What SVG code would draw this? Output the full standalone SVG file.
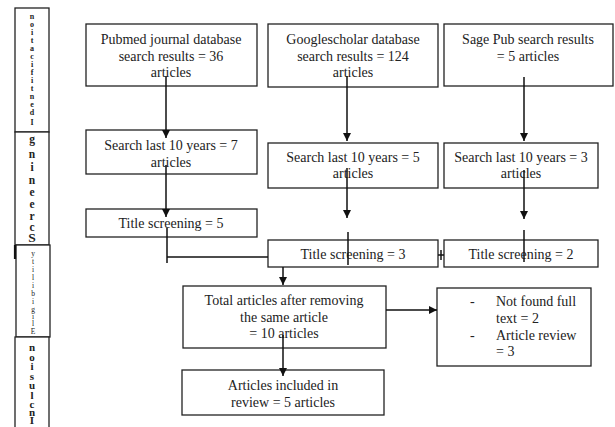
<svg xmlns="http://www.w3.org/2000/svg" width="615" height="427" viewBox="0 0 615 427">
<defs>
<style>
.box{fill:#fff;stroke:#222;stroke-width:1.3}
text{font-family:"Liberation Serif","DejaVu Serif","Times New Roman",serif;fill:#222}
.t{font-size:14px;text-anchor:middle}
.tl{font-size:14px}
.ln{fill:none;stroke:#111;stroke-width:1.5}
.v{text-anchor:middle}
</style>
<marker id="ah" markerUnits="userSpaceOnUse" markerWidth="9" markerHeight="9" refX="8" refY="4" orient="auto">
<path d="M0,0 L8,4 L0,8 Z" fill="#111"/>
</marker>
</defs>
<rect width="615" height="427" fill="#fff"/>

<g id="stage-identification">
<rect class="box" x="15" y="8" width="34" height="124"/>
<text class="v" font-size="8" font-weight="bold"><tspan x="32" y="19">n</tspan><tspan x="32" y="27">o</tspan><tspan x="32" y="35">i</tspan><tspan x="32" y="43">t</tspan><tspan x="32" y="51">a</tspan><tspan x="32" y="59">c</tspan><tspan x="32" y="67">i</tspan><tspan x="32" y="75">f</tspan><tspan x="32" y="83">i</tspan><tspan x="32" y="91">t</tspan><tspan x="32" y="99">n</tspan><tspan x="32" y="107">e</tspan><tspan x="32" y="115">d</tspan><tspan x="32" y="125">I</tspan></text>
</g>
<g id="stage-screening">
<rect class="box" x="15" y="132" width="34" height="113"/>
<text class="v" font-size="11.5" font-weight="bold"><tspan x="32" y="143">g</tspan><tspan x="32" y="158">n</tspan><tspan x="32" y="171">i</tspan><tspan x="32" y="184">n</tspan><tspan x="32" y="196">e</tspan><tspan x="32" y="208">e</tspan><tspan x="32" y="220">r</tspan><tspan x="32" y="231">c</tspan><tspan x="32" y="242" font-size="13.5">S</tspan></text>
</g>
<g id="stage-eligibility">
<rect class="box" x="16" y="245" width="34" height="92"/>
<line x1="15" y1="245" x2="15" y2="259" stroke="#111" stroke-width="2.2"/>
<text class="v" font-size="7.5"><tspan x="33" y="256">y</tspan><tspan x="33" y="264">t</tspan><tspan x="33" y="272">i</tspan><tspan x="33" y="280">l</tspan><tspan x="33" y="288">i</tspan><tspan x="33" y="296">b</tspan><tspan x="33" y="304">i</tspan><tspan x="33" y="312">g</tspan><tspan x="33" y="319">i</tspan><tspan x="33" y="326">l</tspan><tspan x="33" y="334">E</tspan></text>
</g>
<g id="stage-inclusion">
<rect class="box" x="15" y="337" width="34" height="95"/>
<text class="v" font-size="11" font-weight="bold"><tspan x="32" y="351">n</tspan><tspan x="32" y="360.5">o</tspan><tspan x="32" y="370">i</tspan><tspan x="32" y="379.5">s</tspan><tspan x="32" y="389">u</tspan><tspan x="32" y="398.5">l</tspan><tspan x="32" y="408">c</tspan><tspan x="32" y="416">n</tspan><tspan x="32" y="424">I</tspan></text>
</g>

<g id="pubmed">
<rect class="box" x="86" y="24" width="171" height="62"/>
<text class="t" x="171" y="44">Pubmed journal database</text>
<text class="t" x="171" y="61">search results = 36</text>
<text class="t" x="171" y="77">articles</text>
</g>
<g id="googlescholar">
<rect class="box" x="268" y="24" width="170" height="63"/>
<text class="t" x="353" y="44">Googlescholar database</text>
<text class="t" x="353" y="61">search results = 124</text>
<text class="t" x="353" y="77">articles</text>
</g>
<g id="sagepub">
<rect class="box" x="444" y="24" width="169" height="62"/>
<text class="t" x="528" y="44">Sage Pub search results</text>
<text class="t" x="528" y="61">= 5 articles</text>
</g>

<g id="search7">
<rect class="box" x="86" y="130" width="171" height="44"/>
<text class="t" x="171" y="150">Search last 10 years = 7</text>
<text class="t" x="171" y="167">articles</text>
</g>
<g id="search5">
<rect class="box" x="268" y="143" width="170" height="45"/>
<text class="t" x="353" y="162">Search last 10 years = 5</text>
<text class="t" x="353" y="178">articles</text>
</g>
<g id="search3">
<rect class="box" x="444" y="143" width="154" height="45"/>
<text class="t" x="521" y="162">Search last 10 years = 3</text>
<text class="t" x="521" y="178">articles</text>
</g>

<g id="title5">
<rect class="box" x="86" y="209" width="171" height="28"/>
<text class="t" x="171" y="228">Title screening = 5</text>
</g>
<g id="title3">
<rect class="box" x="268" y="240" width="170" height="27"/>
<text class="t" x="353" y="259">Title screening = 3</text>
</g>
<g id="title2">
<rect class="box" x="444" y="240" width="154" height="27"/>
<text class="t" x="521" y="259">Title screening = 2</text>
</g>

<g id="total">
<rect class="box" x="183" y="286" width="203" height="62"/>
<text class="t" x="284" y="305">Total articles after removing</text>
<text class="t" x="284" y="322">the same article</text>
<text class="t" x="284" y="338">= 10 articles</text>
</g>
<g id="excluded">
<rect class="box" x="437" y="288" width="154" height="78"/>
<text class="tl" x="470" y="306">-</text>
<text class="tl" x="496" y="306">Not found full</text>
<text class="tl" x="496" y="323">text = 2</text>
<text class="tl" x="470" y="340">-</text>
<text class="tl" x="496" y="340">Article review</text>
<text class="tl" x="496" y="356">= 3</text>
</g>
<g id="included">
<rect class="box" x="182" y="370" width="202" height="45"/>
<text class="t" x="283" y="390">Articles included in</text>
<text class="t" x="283" y="407">review = 5 articles</text>
</g>

<g id="connectors">
<line class="ln" x1="166" y1="76" x2="166" y2="138" marker-end="url(#ah)"/>
<line class="ln" x1="347" y1="76" x2="347" y2="141" marker-end="url(#ah)"/>
<line class="ln" x1="524" y1="77" x2="524" y2="141" marker-end="url(#ah)"/>
<line class="ln" x1="166" y1="165" x2="166" y2="217" marker-end="url(#ah)"/>
<line class="ln" x1="347" y1="168" x2="347" y2="218" marker-end="url(#ah)"/>
<line class="ln" x1="524" y1="170" x2="524" y2="219" marker-end="url(#ah)"/>
<line class="ln" x1="348" y1="232" x2="348" y2="265"/>
<line class="ln" x1="524" y1="230" x2="524" y2="262"/>
<line class="ln" x1="167" y1="228" x2="167" y2="263"/>
<line class="ln" x1="167" y1="257" x2="268" y2="257"/>
<line class="ln" x1="438" y1="255" x2="444" y2="255"/>
<line class="ln" x1="441" y1="250" x2="441" y2="260"/>
<line class="ln" x1="283" y1="267" x2="283" y2="285" marker-end="url(#ah)"/>
<line class="ln" x1="283" y1="335" x2="283" y2="376" marker-end="url(#ah)"/>
<line class="ln" x1="386" y1="310" x2="437" y2="310" marker-end="url(#ah)"/>
</g>
</svg>
